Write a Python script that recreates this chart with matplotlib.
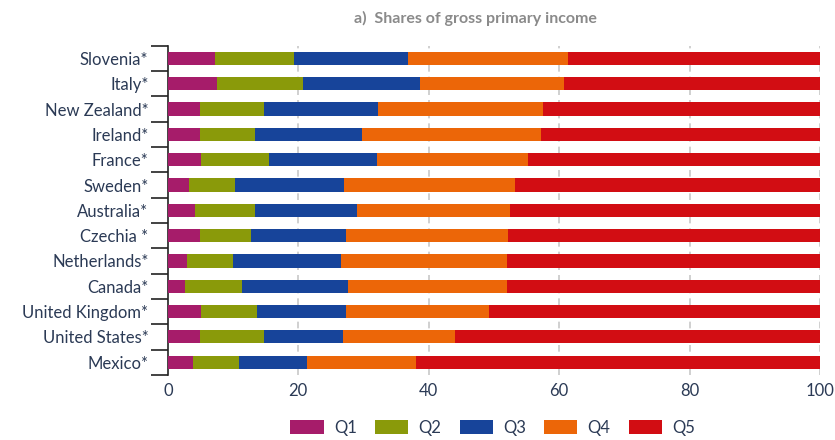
import matplotlib.pyplot as plt
import numpy as np

plt.rcParams['font.family'] = ['Lato', 'DejaVu Sans']

countries = ['Slovenia*', 'Italy*', 'New Zealand*', 'Ireland*', 'France*', 'Sweden*',
             'Australia*', 'Czechia *', 'Netherlands*', 'Canada*', 'United Kingdom*',
             'United States*', 'Mexico*']

# shares of gross primary income by quintile (%)
q1 = [7.3, 7.6, 4.9, 4.9, 5.1, 3.2, 4.1, 4.9, 3.0, 2.6, 5.1, 4.9, 3.8]
q2 = [12.1, 13.2, 9.8, 8.5, 10.4, 7.1, 9.3, 7.9, 7.0, 8.8, 8.5, 9.8, 7.1]
q3 = [17.5, 17.8, 17.5, 16.4, 16.5, 16.7, 15.6, 14.5, 16.5, 16.2, 13.7, 12.1, 10.4]
q4 = [24.4, 22.1, 25.3, 27.4, 23.2, 26.3, 23.5, 24.9, 25.5, 24.4, 21.9, 17.2, 16.7]
q5 = [38.7, 39.3, 42.5, 42.8, 44.8, 46.7, 47.5, 47.8, 48.0, 48.0, 50.8, 56.0, 62.0]

series = [q1, q2, q3, q4, q5]
names = ['Q1', 'Q2', 'Q3', 'Q4', 'Q5']
colors = ['#a61c6a', '#8a9a0a', '#17449a', '#ec6608', '#d20d13']

fig = plt.figure(figsize=(8.35, 4.4), dpi=100)
ax = fig.add_axes([0.201, 0.148, 0.781, 0.748])

y = np.arange(len(countries))
left = np.zeros(len(countries))
for vals, name, c in zip(series, names, colors):
    ax.barh(y, vals, left=left, height=0.52, color=c, label=name, zorder=3)
    left += np.array(vals)

ax.set_xlim(0, 100)
ax.set_ylim(len(countries) - 0.5, -0.5)

# dashed grid
for v in [20, 40, 60, 80, 100]:
    ax.axvline(v, color='#c8c8c8', lw=1.2, ls=(0, (4, 3)), zorder=1)

ax.set_xticks([0, 20, 40, 60, 80, 100])
ax.tick_params(axis='x', length=0, labelsize=12, labelcolor='#2b3a55', pad=6)

ax.set_yticks(y)
ax.set_yticklabels(countries, fontsize=12, color='#2b3a55')
ax.set_yticks(np.arange(-0.5, len(countries), 1), minor=True)
ax.tick_params(axis='y', which='major', length=0, pad=14)
ax.tick_params(axis='y', which='minor', length=12, width=1.2, color='#222222')

for s in ['top', 'right', 'bottom']:
    ax.spines[s].set_visible(False)
ax.spines['left'].set_color('#222222')
ax.spines['left'].set_linewidth(1.2)

fig.text(0.569, 0.957, 'a)  Shares of gross primary income', ha='center', va='center',
         fontsize=11.5, color='#8a8a8a', fontweight='bold')

leg = fig.legend(loc='center', bbox_to_anchor=(0.59, 0.027), ncol=5, frameon=False,
                 fontsize=12, handlelength=2.0, handleheight=0.9, columnspacing=1.1,
                 handletextpad=0.6)
for t in leg.get_texts():
    t.set_color('#2b3a55')

fig.savefig('out.png', dpi=100)
